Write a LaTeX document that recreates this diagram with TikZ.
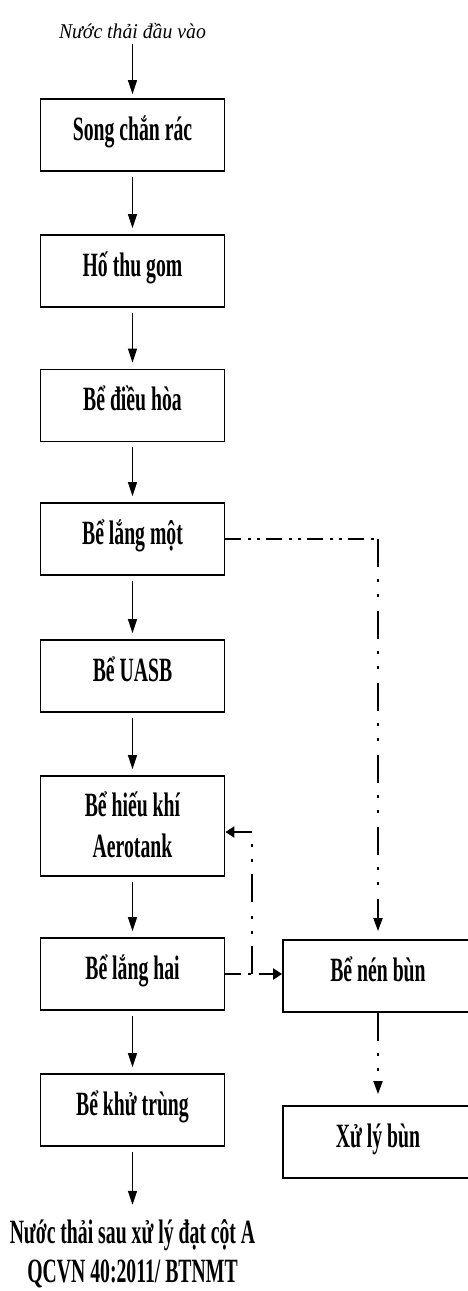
\documentclass[tikz,border=0pt]{standalone}
\usepackage{fontspec}
\setmainfont{Liberation Serif}
\newfontfamily\boxfont{Liberation Serif}[FakeStretch=0.58]
\newfontfamily\headfont{Liberation Serif}[FakeStretch=0.94]
\usetikzlibrary{arrows.meta}

\tikzset{
  stage/.style={draw, line width=1.8pt, minimum width=184pt, minimum height=72pt,
    inner sep=0pt, text height=20pt, text depth=10pt,
    font=\boxfont\bfseries\fontsize{34}{40}\selectfont},
  caption/.style={inner sep=0pt, anchor=base,
    font=\boxfont\bfseries\fontsize{34}{40}\selectfont},
  flow/.style={line width=1.4pt, -{Triangle[length=14pt,width=9pt]},
    shorten <=5pt, shorten >=6pt},
  hdd/.style={line width=2.6pt,
    dash pattern=on 16pt off 7pt on 3pt off 6pt on 3pt off 6pt},
  vdd/.style={line width=1.8pt,
    dash pattern=on 28pt off 12pt on 3pt off 12pt on 3pt off 14pt},
  vtip/.style={-{Triangle[length=13pt,width=9pt]}},
  harr/.style={line width=2.2pt, -{Triangle[length=9pt,width=11pt]}}
}

\begin{document}
\begin{tikzpicture}[x=1pt,y=-1pt]
\useasboundingbox[fill=white] (0,0) rectangle (468,1291);
\clip (0,0) rectangle (468,1291);

% inflow label
\node[inner sep=0pt, anchor=base, text depth=5pt,
      font=\headfont\itshape\fontsize{21}{25}\selectfont]
  (in) at (132.5,38) {Nước thải đầu vào};

% main treatment line
\node[stage] (b1) at (132.5,135)  {Song chắn rác};
\node[stage] (b2) at (132.5,271)  {Hố thu gom};
\node[stage] (b3) at (132.5,405.5){Bể điều hòa};
\node[stage] (b4) at (132.5,539)  {Bể lắng một};
\node[stage] (b5) at (132.5,676)  {Bể UASB};
\node[stage, minimum height=100pt] (b6) at (132.5,826) {};
\node[caption] (b6a) at (132.5,816) {Bể hiếu khí};
\node[caption] (b6b) at (132.5,857) {Aerotank};
\node[stage] (b7) at (132.5,974)  {Bể lắng hai};
\node[stage] (b8) at (132.5,1110) {Bể khử trùng};

% effluent label
\node[caption, text height=30pt] (out1) at (132.5,1243) {Nước thải sau xử lý đạt cột A};
\node[caption] (out2) at (132.5,1282) {QCVN 40:2011/ BTNMT};

% sludge line
\node[stage, minimum width=190pt] (nen) at (378,976)  {Bể nén bùn};
\node[stage, minimum width=190pt] (xl)  at (378,1142) {Xử lý bùn};

% water flow arrows
\draw[flow, shorten <=1pt, shorten >=4pt] (in) -- (b1);
\draw[flow] (b1) -- (b2);
\draw[flow] (b2) -- (b3);
\draw[flow] (b3) -- (b4);
\draw[flow] (b4) -- (b5);
\draw[flow] (b5) -- (b6);
\draw[flow] (b6) -- (b7);
\draw[flow] (b7) -- (b8);
\draw[flow, shorten >=8pt] (b8) -- (out1);

% primary sludge to thickener
\coordinate (k1) at (nen.north |- b4.east);
\draw[hdd] (b4.east) -- (k1);
\draw[vdd, vtip, shorten >=8pt] (k1) -- (nen.north);

% return sludge and excess sludge from the secondary clarifier
\coordinate (k2) at (252,974);
\coordinate (k3) at (252,832);
\draw[hdd] (b7.east) -- (k2);
\draw[vdd] (k2) -- (k3);
\draw[harr] (k3) -- (k3 -| b6.east);
\draw[harr, shorten <=7pt] (k2) -- (k2 -| nen.west);

% thickened sludge to disposal
\draw[vdd, vtip, shorten >=11pt] (nen) -- (xl);
\end{tikzpicture}
\end{document}
